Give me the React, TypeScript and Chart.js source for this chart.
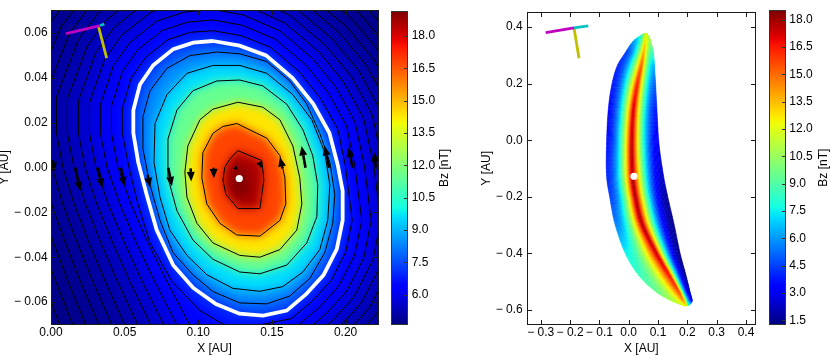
import React, { useEffect, useRef } from "react";
import { Chart, registerables } from "chart.js";

Chart.register(...registerables);

const FONT_FAMILY = "'Liberation Sans', Arial, Helvetica, sans-serif";

/* ================= LEFT PANEL ================= */
const L_X_RANGE = [0, 0.222];
const L_Y_RANGE = [-0.07, 0.07];
const L_X_TICKS = [0, 0.05, 0.1, 0.15, 0.2];
const L_Y_TICKS = [-0.06, -0.04, -0.02, 0, 0.02, 0.04, 0.06];
const L_CB_RANGE = [4.61, 19.15];
const L_CB_TICKS = [6, 7.5, 9, 10.5, 12, 13.5, 15, 16.5, 18];

// Bz core region and inner contours (inside the white boundary)
const CORE_X = [0.126, 0.133, 0.135, 0.131, 0.124, 0.122];
const CORE_Y = [0.001, -0.002, -0.009, -0.014, -0.012, -0.005];
const CORE_LEVEL = 19.1;

const I1_X = [0.1269, 0.1431, 0.1445, 0.1418, 0.1269, 0.1187, 0.1167, 0.118, 0.1221];
const I1_Y = [0.0075, 0.0031, -0.0055, -0.0183, -0.0183, -0.0119, -0.0055, 0.0001, 0.0044];
const I2_X = [0.1262, 0.1465, 0.1554, 0.1588, 0.1594, 0.1554, 0.1418, 0.1262, 0.1147, 0.1058, 0.1024, 0.1031, 0.1099, 0.1167];
const I2_Y = [0.0196, 0.0131, 0.0053, -0.0046, -0.0163, -0.0236, -0.0306, -0.0301, -0.0249, -0.0163, -0.0046, 0.0066, 0.0152, 0.0183];
const I3_X = [0.1269, 0.1438, 0.1554, 0.1642, 0.1689, 0.1703, 0.1669, 0.1554, 0.1418, 0.1282, 0.1099, 0.0991, 0.0923, 0.0909, 0.0929, 0.1011, 0.1099];
const I3_Y = [0.0291, 0.0269, 0.0213, 0.0096, -0.0046, -0.0163, -0.0279, -0.0366, -0.04, -0.0392, -0.0336, -0.0249, -0.0133, -0.002, 0.0096, 0.0213, 0.026];
const I4_X = [0.1126, 0.1282, 0.1438, 0.1601, 0.171, 0.1777, 0.1811, 0.1805, 0.1737, 0.1601, 0.1418, 0.1282, 0.1099, 0.0963, 0.0855, 0.0794, 0.0794, 0.0855, 0.0963];
const I4_Y = [0.0386, 0.039, 0.0364, 0.0282, 0.0169, 0.0053, -0.0077, -0.0219, -0.0336, -0.0435, -0.0474, -0.0466, -0.0409, -0.0323, -0.0193, -0.0046, 0.0127, 0.0256, 0.0342];
const I5_X = [0.1099, 0.1282, 0.1465, 0.1642, 0.1771, 0.1859, 0.1893, 0.1879, 0.1825, 0.171, 0.1574, 0.1418, 0.1235, 0.1058, 0.0923, 0.0807, 0.074, 0.0699, 0.0706, 0.0787, 0.0923];
const I5_Y = [0.0455, 0.0455, 0.042, 0.0325, 0.0213, 0.0066, -0.0077, -0.0236, -0.0366, -0.0466, -0.0531, -0.0552, -0.0539, -0.0478, -0.0392, -0.028, -0.0133, 0.0023, 0.0196, 0.0325, 0.042];
const I6_X = [0.1126, 0.1282, 0.1465, 0.1621, 0.1737, 0.1825, 0.1893, 0.1927, 0.1913, 0.1859, 0.1757, 0.1621, 0.1465, 0.1282, 0.1099, 0.0963, 0.0828, 0.074, 0.0672, 0.0624, 0.0624, 0.0672, 0.0787, 0.0943];
const I6_Y = [0.0515, 0.0507, 0.0472, 0.0386, 0.0282, 0.0152, 0.0023, -0.012, -0.0249, -0.0379, -0.0495, -0.0573, -0.0608, -0.0604, -0.0553, -0.0478, -0.0379, -0.0236, -0.0077, 0.0083, 0.0226, 0.0342, 0.0442, 0.0499];

const INNER_X = [I6_X, I5_X, I4_X, I3_X, I2_X, I1_X];
const INNER_Y = [I6_Y, I5_Y, I4_Y, I3_Y, I2_Y, I1_Y];
const INNER_LEVELS = [8.5, 9.6, 11.5, 14.3, 16.8, 18.6];

// white boundary contour
const W_X = [0.11, 0.128, 0.146, 0.164, 0.178, 0.189, 0.1947, 0.198, 0.198, 0.194, 0.185, 0.173, 0.16, 0.144, 0.128, 0.112, 0.0966, 0.083, 0.0717, 0.0649, 0.0592, 0.0559, 0.0559, 0.0604, 0.0694, 0.083, 0.0966];
const W_Y = [0.0564, 0.0543, 0.05, 0.0399, 0.0284, 0.0154, 0.001, -0.0105, -0.0235, -0.0364, -0.048, -0.0566, -0.0638, -0.066, -0.0652, -0.0609, -0.0537, -0.0436, -0.0278, -0.012, 0.0024, 0.0154, 0.0255, 0.037, 0.0456, 0.0528, 0.0557];
const W_LEVEL = 7.6;

// outer contours (outside the boundary), O1 ... O12
const O1_X = [0.1099, 0.129, 0.1492, 0.1685, 0.1832, 0.1948, 0.1998, 0.2045, 0.2001, 0.1902, 0.1775, 0.1632, 0.135, 0.118, 0.1011, 0.0821, 0.0672, 0.059, 0.0529, 0.0484, 0.0484, 0.0544, 0.0641, 0.0792, 0.0946];
const O1_Y = [0.061, 0.0588, 0.0536, 0.0428, 0.0308, 0.017, 0.001, -0.0236, -0.0377, -0.0505, -0.0595, -0.0674, -0.0711, -0.0703, -0.0638, -0.0508, -0.0336, -0.0163, 0.0001, 0.0154, 0.0263, 0.0399, 0.049, 0.057, 0.0603];
const O2_X = [0.1099, 0.1301, 0.1524, 0.1731, 0.1883, 0.2006, 0.2062, 0.211, 0.2062, 0.1953, 0.1821, 0.1664, 0.135, 0.0943, 0.0787, 0.0658, 0.0543, 0.0455, 0.041, 0.041, 0.0484, 0.0588, 0.0755, 0.0926];
const O2_Y = [0.0658, 0.0634, 0.0572, 0.0457, 0.0333, 0.0187, 0.001, -0.0236, -0.0389, -0.0529, -0.0624, -0.071, -0.0759, -0.0703, -0.0508, -0.0336, -0.0163, 0.0001, 0.0154, 0.0272, 0.0427, 0.0524, 0.0611, 0.0648];
const O3_X = [0.1099, 0.1311, 0.1557, 0.1776, 0.1935, 0.2064, 0.2127, 0.2174, 0.2124, 0.2005, 0.1866, 0.1697, 0.135, 0.0855, 0.0703, 0.0579, 0.0468, 0.038, 0.0335, 0.0335, 0.0425, 0.0535, 0.0718, 0.0905];
const O3_Y = [0.0705, 0.0679, 0.0608, 0.0486, 0.0358, 0.0203, 0.001, -0.0236, -0.0402, -0.0554, -0.0653, -0.0746, -0.0806, -0.0703, -0.0508, -0.0336, -0.0163, 0.0001, 0.0154, 0.0281, 0.0456, 0.0557, 0.0653, 0.0693];
const O4_X = [0.1099, 0.1321, 0.1589, 0.1822, 0.1986, 0.2122, 0.2191, 0.2239, 0.2185, 0.2056, 0.1912, 0.1729, 0.135, 0.0767, 0.0619, 0.0499, 0.0388, 0.0305, 0.0261, 0.0261, 0.0365, 0.0482, 0.0681, 0.0885];
const O4_Y = [0.0753, 0.0724, 0.0644, 0.0514, 0.0382, 0.022, 0.001, -0.0236, -0.0414, -0.0578, -0.0682, -0.0781, -0.0854, -0.0703, -0.0508, -0.0336, -0.0163, 0.0001, 0.0154, 0.0289, 0.0484, 0.0591, 0.0694, 0.0739];
const O5_X = [0.1099, 0.1331, 0.1621, 0.1867, 0.2038, 0.218, 0.2256, 0.2303, 0.2246, 0.2108, 0.1957, 0.1761, 0.135, 0.0678, 0.0535, 0.0419, 0.0311, 0.0231, 0.0186, 0.0186, 0.0305, 0.0429, 0.0643, 0.0864];
const O5_Y = [0.08, 0.077, 0.0679, 0.0543, 0.0407, 0.0236, 0.001, -0.0236, -0.0427, -0.0603, -0.0711, -0.0817, -0.0901, -0.0703, -0.0508, -0.0336, -0.0163, 0.0001, 0.0154, 0.0298, 0.0513, 0.0625, 0.0736, 0.0784];
const O6_X = [0.1099, 0.1341, 0.1653, 0.1913, 0.209, 0.2238, 0.232, 0.2368, 0.2307, 0.2159, 0.2003, 0.1793, 0.135, 0.059, 0.0451, 0.0339, 0.0234, 0.0156, 0.0111, 0.0111, 0.0246, 0.0376, 0.0606, 0.0844];
const O6_Y = [0.0848, 0.0815, 0.0715, 0.0572, 0.0432, 0.0252, 0.001, -0.0236, -0.0439, -0.0628, -0.074, -0.0853, -0.0949, -0.0703, -0.0508, -0.0336, -0.0163, 0.0001, 0.0154, 0.0307, 0.0541, 0.0658, 0.0777, 0.0829];
const O7_X = [0.1099, 0.1351, 0.1686, 0.1958, 0.2141, 0.2296, 0.2385, 0.2432, 0.2368, 0.2211, 0.2048, 0.1825, 0.135, 0.0502, 0.0368, 0.0258, 0.0157, 0.0081, 0.0037, 0.0037, 0.0186, 0.0324, 0.0569, 0.0824];
const O7_Y = [0.0895, 0.0861, 0.0751, 0.0601, 0.0456, 0.0269, 0.001, -0.0236, -0.0452, -0.0652, -0.0769, -0.0889, -0.0996, -0.0703, -0.0508, -0.0336, -0.0163, 0.0001, 0.0154, 0.0315, 0.057, 0.0692, 0.0819, 0.0875];
const O8_X = [0.1099, 0.1362, 0.1718, 0.2003, 0.2193, 0.2354, 0.2449, 0.2497, 0.2429, 0.2263, 0.2094, 0.1858, 0.135, 0.0414, 0.0284, 0.0178, 0.008, 0.0007, -0.0038, -0.0038, 0.0126, 0.0271, 0.0531, 0.0803];
const O8_Y = [0.0943, 0.0906, 0.0787, 0.063, 0.0481, 0.0285, 0.001, -0.0236, -0.0464, -0.0677, -0.0797, -0.0925, -0.1044, -0.0703, -0.0508, -0.0336, -0.0163, 0.0001, 0.0154, 0.0324, 0.0598, 0.0726, 0.086, 0.092];
const O9_X = [0.1099, 0.1372, 0.175, 0.2049, 0.2244, 0.2412, 0.2514, 0.2561, 0.249, 0.2314, 0.2139, 0.189, 0.135, 0.0326, 0.0199, 0.0098, 0.0003, -0.0068, -0.0113, -0.0113, 0.0067, 0.0218, 0.0494, 0.0783];
const O9_Y = [0.0991, 0.0951, 0.0823, 0.0659, 0.0505, 0.0302, 0.001, -0.0236, -0.0477, -0.0701, -0.0826, -0.0961, -0.1091, -0.0703, -0.0508, -0.0336, -0.0163, 0.0001, 0.0154, 0.0333, 0.0627, 0.0759, 0.0902, 0.0965];
const O10_X = [0.1099, 0.1382, 0.1782, 0.2094, 0.2296, 0.247, 0.2578, 0.2626, 0.2551, 0.2366, 0.2185, 0.1922, 0.135, 0.0237, 0.0116, 0.0017, -0.0074, -0.0142, -0.0187, -0.0187, 0.0007, 0.0165, 0.0457, 0.0762];
const O10_Y = [0.1038, 0.0997, 0.0859, 0.0688, 0.053, 0.0318, 0.001, -0.0236, -0.0489, -0.0726, -0.0855, -0.0997, -0.1139, -0.0703, -0.0508, -0.0336, -0.0163, 0.0001, 0.0154, 0.0341, 0.0655, 0.0793, 0.0943, 0.1011];
const O11_X = [0.1099, 0.1392, 0.1815, 0.214, 0.2347, 0.2528, 0.2642, 0.269, 0.2612, 0.2417, 0.223, 0.1954, 0.135, 0.0149, 0.0032, -0.0063, -0.0151, -0.0217, -0.0262, -0.0262, -0.0053, 0.0112, 0.0419, 0.0742];
const O11_Y = [0.1086, 0.1042, 0.0895, 0.0717, 0.0555, 0.0334, 0.001, -0.0236, -0.0502, -0.0751, -0.0884, -0.1032, -0.1186, -0.0703, -0.0508, -0.0336, -0.0163, 0.0001, 0.0154, 0.035, 0.0684, 0.0827, 0.0985, 0.1056];
const O12_X = [0.1099, 0.1402, 0.1847, 0.2185, 0.2399, 0.2586, 0.2707, 0.2754, 0.2673, 0.2469, 0.2275, 0.1986, 0.135, 0.0061, -0.0052, -0.0144, -0.0228, -0.0292, -0.0337, -0.0337, -0.0112, 0.0059, 0.0382, 0.0722];
const O12_Y = [0.1133, 0.1087, 0.093, 0.0746, 0.0579, 0.0351, 0.001, -0.0236, -0.0515, -0.0775, -0.0913, -0.1068, -0.1234, -0.0703, -0.0508, -0.0336, -0.0163, 0.0001, 0.0154, 0.0359, 0.0712, 0.0861, 0.1026, 0.1101];

const OUTER_X = [O1_X, O2_X, O3_X, O4_X, O5_X, O6_X, O7_X, O8_X, O9_X, O10_X, O11_X, O12_X];
const OUTER_Y = [O1_Y, O2_Y, O3_Y, O4_Y, O5_Y, O6_Y, O7_Y, O8_Y, O9_Y, O10_Y, O11_Y, O12_Y];
const OUTER_LEVELS = [6.8, 6.45, 6.1, 5.85, 5.6, 5.4, 5.2, 5.05, 4.95, 4.85, 4.8, 4.75];
const BACKGROUND_LEVEL = 4.7;

// quiver arrows (tail -> tip)
const ARROW_TAIL_X = [0.0011, 0.0165, 0.0319, 0.0475, 0.0656, 0.0796, 0.0948, 0.1104, 0.1264, 0.1413, 0.1572, 0.1728, 0.1888, 0.2047, 0.2205];
const ARROW_TAIL_Y = [0.0032, -0.0001, -0.0001, -0.0001, -0.0033, -0.0001, -0.0004, -0.0001, -0.0001, 0.0024, -0.0004, -0.0001, -0.0001, -0.0001, -0.0001];
const ARROW_TIP_X = [0.0023, 0.0199, 0.0348, 0.0498, 0.0672, 0.0821, 0.0952, 0.1106, 0.1237, 0.1431, 0.1554, 0.1701, 0.1859, 0.2019, 0.2196];
const ARROW_TIP_Y = [-0.0019, -0.0105, -0.0091, -0.0084, -0.0088, -0.0084, -0.0062, -0.0048, -0.0007, -0.0004, 0.0046, 0.0096, 0.0096, 0.0089, 0.0068];

const L_DOT = [0.1278, -0.0049];
const L_MAGENTA_X = [0.0102, 0.0332];
const L_MAGENTA_Y = [0.0597, 0.0633];
const L_CYAN_X = [0.0332, 0.0362];
const L_CYAN_Y = [0.0633, 0.0639];
const L_YELLOW_X = [0.0321, 0.0378];
const L_YELLOW_Y = [0.0632, 0.0488];

/* ================= RIGHT PANEL ================= */
const R_X_RANGE = [-0.3445, 0.4308];
const R_Y_RANGE = [-0.6521, 0.4529];
const R_X_TICKS = [-0.3, -0.2, -0.1, 0, 0.1, 0.2, 0.3, 0.4];
const R_Y_TICKS = [-0.6, -0.4, -0.2, 0, 0.2, 0.4];
const R_CB_RANGE = [1.27, 18.48];
const R_CB_TICKS = [1.5, 3, 4.5, 6, 7.5, 9, 10.5, 12, 13.5, 15, 16.5, 18];

// crescent cross-sections: y, left edge x, ridge x, right edge x and Bz at each
const R_ST_Y = [0.3762, 0.3626, 0.3457, 0.3082, 0.2604, 0.1922, 0.1034, -0.0126, -0.1253, -0.2038, -0.2959, -0.3983, -0.4768, -0.5348, -0.5689, -0.5856];
const R_ST_LEFT_X = [0.0505, 0.03, 0.0113, -0.0127, -0.0402, -0.0584, -0.0701, -0.0756, -0.0756, -0.0643, -0.0471, -0.0127, 0.033, 0.0904, 0.1478, 0.1903];
const R_ST_RIDGE_X = [0.0566, 0.0566, 0.056, 0.0502, 0.0423, 0.0285, 0.0158, 0.0103, 0.0131, 0.0234, 0.0457, 0.0938, 0.1385, 0.1711, 0.1876, 0.1971];
const R_ST_RIGHT_X = [0.0624, 0.0709, 0.0766, 0.0845, 0.088, 0.0921, 0.0965, 0.1033, 0.1187, 0.134, 0.1545, 0.175, 0.1952, 0.2089, 0.2165, 0.204];
const R_LEFT_BZ = [10, 7.5, 6, 4.5, 4, 3.8, 3.5, 3.6, 4, 4.5, 5.5, 7.5, 8.5, 9.5, 11, 12];
const R_RIDGE_BZ = [12, 12.5, 13, 14, 15.5, 16.8, 17.6, 18, 18.3, 18.3, 18.2, 17.8, 17, 16, 14.5, 13];
const R_RIGHT_BZ = [11.5, 11, 10.5, 8.5, 6.5, 5, 3.8, 3, 2.3, 1.7, 1.5, 1.5, 1.6, 2, 3.5, 9];

const R_DOT = [0.018, -0.1276];
const R_MAGENTA_X = [-0.2831, -0.1866];
const R_MAGENTA_Y = [0.3806, 0.3977];
const R_CYAN_X = [-0.1866, -0.1378];
const R_CYAN_Y = [0.3977, 0.4045];
const R_YELLOW_X = [-0.1866, -0.1695];
const R_YELLOW_Y = [0.3977, 0.2899];

/* ================= helpers ================= */
const JET_R = [[0, 0], [0.35, 0], [0.66, 1], [0.89, 1], [1, 0.5]];
const JET_G = [[0, 0], [0.125, 0], [0.375, 1], [0.64, 1], [0.91, 0], [1, 0]];
const JET_B = [[0, 0.5], [0.11, 1], [0.34, 1], [0.65, 0], [1, 0]];

function seg(p: number[][], t: number) {
  for (let i = 1; i < p.length; i++) {
    if (t <= p[i][0]) {
      const [t0, v0] = p[i - 1];
      const [t1, v1] = p[i];
      return v0 + ((v1 - v0) * (t - t0)) / (t1 - t0);
    }
  }
  return p[p.length - 1][1];
}
function jetT(t: number) {
  const c = Math.min(1, Math.max(0, t));
  const r = Math.round(255 * seg(JET_R, c));
  const g = Math.round(255 * seg(JET_G, c));
  const b = Math.round(255 * seg(JET_B, c));
  return `rgb(${r},${g},${b})`;
}
function jet(v: number, range: number[]) {
  return jetT((v - range[0]) / (range[1] - range[0]));
}
function fmt(v: number, d: number) {
  const a = Math.abs(v) < 1e-9 ? 0 : v;
  const s = Math.abs(a).toFixed(d);
  return a < 0 ? "\u2212 " + s : s;
}
function pts(xs: number[], ys: number[], close = false) {
  const out = xs.map((x, i) => ({ x, y: ys[i] }));
  if (close) out.push({ x: xs[0], y: ys[0] });
  return out;
}
function tracePath(ctx: any, xs: number[], ys: number[], sx: any, sy: any) {
  ctx.beginPath();
  xs.forEach((x, i) => {
    const px = sx.getPixelForValue(x);
    const py = sy.getPixelForValue(ys[i]);
    if (i === 0) ctx.moveTo(px, py);
    else ctx.lineTo(px, py);
  });
  ctx.closePath();
}
function lineDs(xs: number[], ys: number[], color: string, width: number, order: number, close = false) {
  return {
    data: pts(xs, ys, close),
    showLine: true,
    borderColor: color,
    borderWidth: width,
    pointRadius: 0,
    pointHoverRadius: 0,
    tension: 0,
    clip: 0,
    order,
  };
}
function dotDs(p: number[]) {
  return {
    data: [{ x: p[0], y: p[1] }],
    showLine: false,
    pointRadius: 3.6,
    pointHoverRadius: 3.6,
    pointBackgroundColor: "#ffffff",
    pointBorderWidth: 0,
    borderWidth: 0,
    clip: 0,
    order: 0,
  };
}
// Catmull-Rom for a smooth drawn outline between the read cross-sections
function cr(arr: number[], i: number, t: number) {
  const n = arr.length;
  const p0 = arr[Math.max(0, i - 1)];
  const p1 = arr[i];
  const p2 = arr[Math.min(n - 1, i + 1)];
  const p3 = arr[Math.min(n - 1, i + 2)];
  const t2 = t * t;
  const t3 = t2 * t;
  return 0.5 * (2 * p1 + (-p0 + p2) * t + (2 * p0 - 5 * p1 + 4 * p2 - p3) * t2 + (-p0 + 3 * p1 - 3 * p2 + p3) * t3);
}
function lin(arr: number[], i: number, t: number) {
  const j = Math.min(arr.length - 1, i + 1);
  return arr[i] + (arr[j] - arr[i]) * t;
}

function framePlugin(xTicks: number[], yTicks: number[], len: number) {
  return {
    id: "frame",
    afterDraw(chart: any) {
      const { ctx, chartArea: a, scales } = chart;
      const sx = scales.x;
      const sy = scales.y;
      ctx.save();
      ctx.strokeStyle = "#1a1a1a";
      ctx.lineWidth = 1;
      const l = Math.floor(a.left) + 0.5;
      const r = Math.floor(a.right) + 0.5;
      const t = Math.floor(a.top) + 0.5;
      const b = Math.floor(a.bottom) + 0.5;
      ctx.strokeRect(l, t, r - l, b - t);
      ctx.beginPath();
      xTicks.forEach((v) => {
        const p = Math.round(sx.getPixelForValue(v)) + 0.5;
        ctx.moveTo(p, b);
        ctx.lineTo(p, b - len);
        ctx.moveTo(p, t);
        ctx.lineTo(p, t + len);
      });
      yTicks.forEach((v) => {
        const p = Math.round(sy.getPixelForValue(v)) + 0.5;
        ctx.moveTo(l, p);
        ctx.lineTo(l + len, p);
        ctx.moveTo(r, p);
        ctx.lineTo(r - len, p);
      });
      ctx.stroke();
      ctx.restore();
    },
  };
}

const leftHeatPlugin = {
  id: "leftHeat",
  beforeDatasetsDraw(chart: any) {
    const { ctx, chartArea: a, scales } = chart;
    const sx = scales.x;
    const sy = scales.y;
    const m = 24;
    const off = document.createElement("canvas");
    off.width = Math.ceil(a.width + 2 * m);
    off.height = Math.ceil(a.height + 2 * m);
    const o = off.getContext("2d") as any;
    o.fillStyle = jet(BACKGROUND_LEVEL, L_CB_RANGE);
    o.fillRect(0, 0, off.width, off.height);
    o.translate(m - a.left, m - a.top);
    o.filter = "blur(5px)";
    for (let k = OUTER_X.length - 1; k >= 0; k--) {
      tracePath(o, OUTER_X[k], OUTER_Y[k], sx, sy);
      o.fillStyle = jet(OUTER_LEVELS[k], L_CB_RANGE);
      o.fill();
    }
    tracePath(o, W_X, W_Y, sx, sy);
    o.fillStyle = jet(W_LEVEL, L_CB_RANGE);
    o.fill();
    INNER_X.forEach((xs, k) => {
      tracePath(o, xs, INNER_Y[k], sx, sy);
      o.fillStyle = jet(INNER_LEVELS[k], L_CB_RANGE);
      o.fill();
    });
    tracePath(o, CORE_X, CORE_Y, sx, sy);
    o.fillStyle = jet(CORE_LEVEL, L_CB_RANGE);
    o.fill();
    ctx.save();
    ctx.beginPath();
    ctx.rect(a.left, a.top, a.width, a.height);
    ctx.clip();
    ctx.drawImage(off, a.left - m, a.top - m);
    ctx.restore();
  },
};

const arrowPlugin = {
  id: "arrows",
  afterDatasetsDraw(chart: any) {
    const { ctx, chartArea: a, scales } = chart;
    const sx = scales.x;
    const sy = scales.y;
    ctx.save();
    ctx.beginPath();
    ctx.rect(a.left, a.top, a.width, a.height);
    ctx.clip();
    ctx.fillStyle = "#000";
    ctx.strokeStyle = "#000";
    ARROW_TAIL_X.forEach((tx, i) => {
      const x0 = sx.getPixelForValue(tx);
      const y0 = sy.getPixelForValue(ARROW_TAIL_Y[i]);
      const x1 = sx.getPixelForValue(ARROW_TIP_X[i]);
      const y1 = sy.getPixelForValue(ARROW_TIP_Y[i]);
      const dx = x1 - x0;
      const dy = y1 - y0;
      const len = Math.hypot(dx, dy) || 1;
      const ux = dx / len;
      const uy = dy / len;
      const nx = -uy;
      const ny = ux;
      const hl = Math.min(9.5, len);
      const hw = Math.max(2.5, hl * 0.42);
      const bx = x1 - ux * hl;
      const by = y1 - uy * hl;
      if (len > hl + 0.5) {
        ctx.lineWidth = 2.6;
        ctx.beginPath();
        ctx.moveTo(x0, y0);
        ctx.lineTo(bx, by);
        ctx.stroke();
      }
      ctx.beginPath();
      ctx.moveTo(x1, y1);
      ctx.lineTo(bx + nx * hw, by + ny * hw);
      ctx.lineTo(bx - nx * hw, by - ny * hw);
      ctx.closePath();
      ctx.fill();
    });
    ctx.restore();
  },
};

const crescentPlugin = {
  id: "crescent",
  beforeDatasetsDraw(chart: any) {
    const { ctx, chartArea: a, scales } = chart;
    const sx = scales.x;
    const sy = scales.y;
    const N = R_ST_Y.length;
    const SUB = 8;
    const M = 24;
    const Y: number[] = [], LX: number[] = [], RX: number[] = [], TX: number[] = [];
    const LV: number[] = [], RV: number[] = [], TV: number[] = [];
    for (let i = 0; i < N - 1; i++) {
      for (let s = 0; s < SUB; s++) {
        const t = s / SUB;
        Y.push(cr(R_ST_Y, i, t));
        LX.push(cr(R_ST_LEFT_X, i, t));
        RX.push(cr(R_ST_RIDGE_X, i, t));
        TX.push(cr(R_ST_RIGHT_X, i, t));
        LV.push(lin(R_LEFT_BZ, i, t));
        RV.push(lin(R_RIDGE_BZ, i, t));
        TV.push(lin(R_RIGHT_BZ, i, t));
      }
    }
    Y.push(R_ST_Y[N - 1]);
    LX.push(R_ST_LEFT_X[N - 1]);
    RX.push(R_ST_RIDGE_X[N - 1]);
    TX.push(R_ST_RIGHT_X[N - 1]);
    LV.push(R_LEFT_BZ[N - 1]);
    RV.push(R_RIDGE_BZ[N - 1]);
    TV.push(R_RIGHT_BZ[N - 1]);
    const D = Y.length;

    ctx.save();
    ctx.beginPath();
    ctx.rect(a.left, a.top, a.width, a.height);
    ctx.clip();
    ctx.lineWidth = 0.6;
    ctx.lineJoin = "round";
    const sides: any[] = [
      [LX, LV],
      [TX, TV],
    ];
    sides.forEach(([edgeX, edgeV]) => {
      const P = (k: number, u: number) => {
        const ex = edgeX[k];
        const rx = RX[k];
        return [sx.getPixelForValue(ex + (rx - ex) * u), sy.getPixelForValue(Y[k])];
      };
      const V = (k: number, u: number) => edgeV[k] + (RV[k] - edgeV[k]) * u * u;
      for (let i = 0; i < D - 1; i++) {
        for (let j = 0; j < M; j++) {
          const u0 = j / M;
          const u1 = (j + 1) / M;
          const v = (V(i, u0) + V(i, u1) + V(i + 1, u0) + V(i + 1, u1)) / 4;
          const c = jet(v, R_CB_RANGE);
          const p1 = P(i, u0);
          const p2 = P(i + 1, u0);
          const p3 = P(i + 1, u1);
          const p4 = P(i, u1);
          ctx.beginPath();
          ctx.moveTo(p1[0], p1[1]);
          ctx.lineTo(p2[0], p2[1]);
          ctx.lineTo(p3[0], p3[1]);
          ctx.lineTo(p4[0], p4[1]);
          ctx.closePath();
          ctx.fillStyle = c;
          ctx.strokeStyle = c;
          ctx.fill();
          ctx.stroke();
        }
      }
    });
    ctx.restore();
  },
};

function colorbarPlugin(range: number[], ticks: number[], labelX: number) {
  return {
    id: "colorbar",
    beforeDatasetsDraw(chart: any) {
      const { ctx, chartArea: a, scales } = chart;
      const sy = scales.y;
      const y0 = sy.getPixelForValue(range[0]);
      const y1 = sy.getPixelForValue(range[1]);
      const g = ctx.createLinearGradient(0, y0, 0, y1);
      for (let i = 0; i <= 64; i++) g.addColorStop(i / 64, jetT(i / 64));
      ctx.save();
      ctx.fillStyle = g;
      ctx.fillRect(a.left, a.top, a.width, a.height);
      ctx.restore();
    },
    afterDraw(chart: any) {
      const { ctx, chartArea: a, scales } = chart;
      const sy = scales.y;
      ctx.save();
      ctx.strokeStyle = "#333";
      ctx.lineWidth = 1;
      const l = Math.floor(a.left) + 0.5;
      const r = Math.floor(a.right) + 0.5;
      const t = Math.floor(a.top) + 0.5;
      const b = Math.floor(a.bottom) + 0.5;
      ctx.strokeRect(l, t, r - l, b - t);
      ctx.beginPath();
      ticks.forEach((v) => {
        const p = Math.round(sy.getPixelForValue(v)) + 0.5;
        ctx.moveTo(r, p);
        ctx.lineTo(r - 3.5, p);
      });
      ctx.stroke();
      ctx.fillStyle = "#000";
      ctx.font = `12px ${FONT_FAMILY}`;
      ctx.translate(labelX, (a.top + a.bottom) / 2);
      ctx.rotate(-Math.PI / 2);
      ctx.textAlign = "center";
      ctx.textBaseline = "middle";
      ctx.fillText("Bz [nT]", 0, 0);
      ctx.restore();
    },
  };
}

const FONT = { family: FONT_FAMILY, size: 12 };

function axis(range: number[], ticks: number[], decimals: number, title: string, fit: (s: any) => void, pad: number, titlePad: any) {
  return {
    type: "linear",
    min: range[0],
    max: range[1],
    bounds: "data",
    afterBuildTicks: (s: any) => {
      s.ticks = ticks.map((v) => ({ value: v }));
    },
    afterFit: fit,
    grid: { display: false, drawTicks: false },
    border: { display: false },
    ticks: {
      autoSkip: false,
      maxRotation: 0,
      minRotation: 0,
      padding: pad,
      color: "#000",
      font: FONT,
      callback: (v: number) => fmt(v, decimals),
    },
    title: { display: true, text: title, color: "#000", font: FONT, padding: titlePad },
  };
}

function baseOptions() {
  return {
    responsive: false,
    maintainAspectRatio: false,
    animation: false,
    devicePixelRatio: 1,
    events: [],
    plugins: { legend: { display: false }, tooltip: { enabled: false }, title: { display: false } },
  };
}

function leftConfig(): any {
  const datasets: any[] = [];
  OUTER_X.forEach((xs, k) => datasets.push(lineDs(xs, OUTER_Y[k], "#000", 1, 3, true)));
  INNER_X.forEach((xs, k) => datasets.push(lineDs(xs, INNER_Y[k], "#000", 1, 3, true)));
  datasets.push(lineDs(W_X, W_Y, "#ffffff", 3.8, 2, true));
  datasets.push(lineDs(L_MAGENTA_X, L_MAGENTA_Y, "#c000c0", 2.8, 1));
  datasets.push(lineDs(L_CYAN_X, L_CYAN_Y, "#00c0c0", 2.8, 1));
  datasets.push(lineDs(L_YELLOW_X, L_YELLOW_Y, "#c0c000", 2.8, 1));
  datasets.push(dotDs(L_DOT));
  return {
    type: "scatter",
    data: { datasets },
    options: {
      ...baseOptions(),
      layout: { padding: { left: 0, top: 0.5, right: 22, bottom: 0 } },
      scales: {
        x: { ...axis(L_X_RANGE, L_X_TICKS, 2, "X [AU]", (s: any) => { s.height = 31.5; }, 1.3, { top: 0, bottom: 0 }), position: "bottom" },
        y: { ...axis(L_Y_RANGE, L_Y_TICKS, 2, "Y [AU]", (s: any) => { s.width = 51; }, 3.3, { top: -2.5, bottom: 0 }), position: "left" },
      },
    },
    plugins: [leftHeatPlugin, arrowPlugin, framePlugin(L_X_TICKS, L_Y_TICKS, 4.5)],
  };
}

function rightConfig(): any {
  const datasets: any[] = [];
  datasets.push(lineDs(R_MAGENTA_X, R_MAGENTA_Y, "#c000c0", 2.8, 1));
  datasets.push(lineDs(R_CYAN_X, R_CYAN_Y, "#00c0c0", 2.8, 1));
  datasets.push(lineDs(R_YELLOW_X, R_YELLOW_Y, "#c0c000", 2.8, 1));
  datasets.push(dotDs(R_DOT));
  return {
    type: "scatter",
    data: { datasets },
    options: {
      ...baseOptions(),
      layout: { padding: { left: 9.7, top: 0.5, right: 5, bottom: 0 } },
      scales: {
        x: { ...axis(R_X_RANGE, R_X_TICKS, 1, "X [AU]", (s: any) => { s.height = 31.5; }, 1.3, { top: 0, bottom: 0 }), position: "bottom" },
        y: { ...axis(R_Y_RANGE, R_Y_TICKS, 1, "Y [AU]", (s: any) => { s.width = 48; }, 5, { top: 0, bottom: 0 }), position: "left" },
      },
    },
    plugins: [crescentPlugin, framePlugin(R_X_TICKS, R_Y_TICKS, 4.5)],
  };
}

function colorbarConfig(range: number[], ticks: number[], padLeft: number, axisW: number, tickPad: number, labelX: number): any {
  return {
    type: "scatter",
    data: { datasets: [] },
    options: {
      ...baseOptions(),
      layout: { padding: { left: padLeft, top: 0.5, right: 0, bottom: 31.5 } },
      scales: {
        x: { type: "linear", display: false, min: 0, max: 1 },
        y: {
          type: "linear",
          position: "right",
          min: range[0],
          max: range[1],
          bounds: "data",
          afterBuildTicks: (s: any) => {
            s.ticks = ticks.map((v) => ({ value: v }));
          },
          afterFit: (s: any) => {
            s.width = axisW;
          },
          grid: { display: false, drawTicks: false },
          border: { display: false },
          ticks: {
            autoSkip: false,
            padding: tickPad,
            color: "#000",
            font: FONT,
            callback: (v: number) => v.toFixed(1),
          },
        },
      },
    },
    plugins: [colorbarPlugin(range, ticks, labelX)],
  };
}

export default function App() {
  const leftRef = useRef<HTMLCanvasElement>(null);
  const leftCbRef = useRef<HTMLCanvasElement>(null);
  const rightRef = useRef<HTMLCanvasElement>(null);
  const rightCbRef = useRef<HTMLCanvasElement>(null);

  useEffect(() => {
    Chart.defaults.font.family = FONT_FAMILY;
    Chart.defaults.font.size = 12;
    Chart.defaults.color = "#000";
    const charts: Chart[] = [];
    charts.push(new Chart(leftRef.current as any, leftConfig()));
    charts.push(new Chart(leftCbRef.current as any, colorbarConfig(L_CB_RANGE, L_CB_TICKS, 11.3, 52.5, 4.2, 65)));
    charts.push(new Chart(rightRef.current as any, rightConfig()));
    charts.push(new Chart(rightCbRef.current as any, colorbarConfig(R_CB_RANGE, R_CB_TICKS, 11.3, 44.3, 3.6, 65.3)));
    return () => charts.forEach((c) => c.destroy());
  }, []);

  return (
    <div style={{ position: "absolute", left: 0, top: 0, width: 830, height: 356, background: "#ffffff", overflow: "hidden" }}>
      <canvas ref={leftRef} width={400} height={356} style={{ position: "absolute", left: 0, top: 0 }} />
      <canvas ref={leftCbRef} width={80} height={356} style={{ position: "absolute", left: 380, top: 0 }} />
      <canvas ref={rightRef} width={290} height={356} style={{ position: "absolute", left: 470, top: 0 }} />
      <canvas ref={rightCbRef} width={72} height={356} style={{ position: "absolute", left: 758, top: 0 }} />
    </div>
  );
}
